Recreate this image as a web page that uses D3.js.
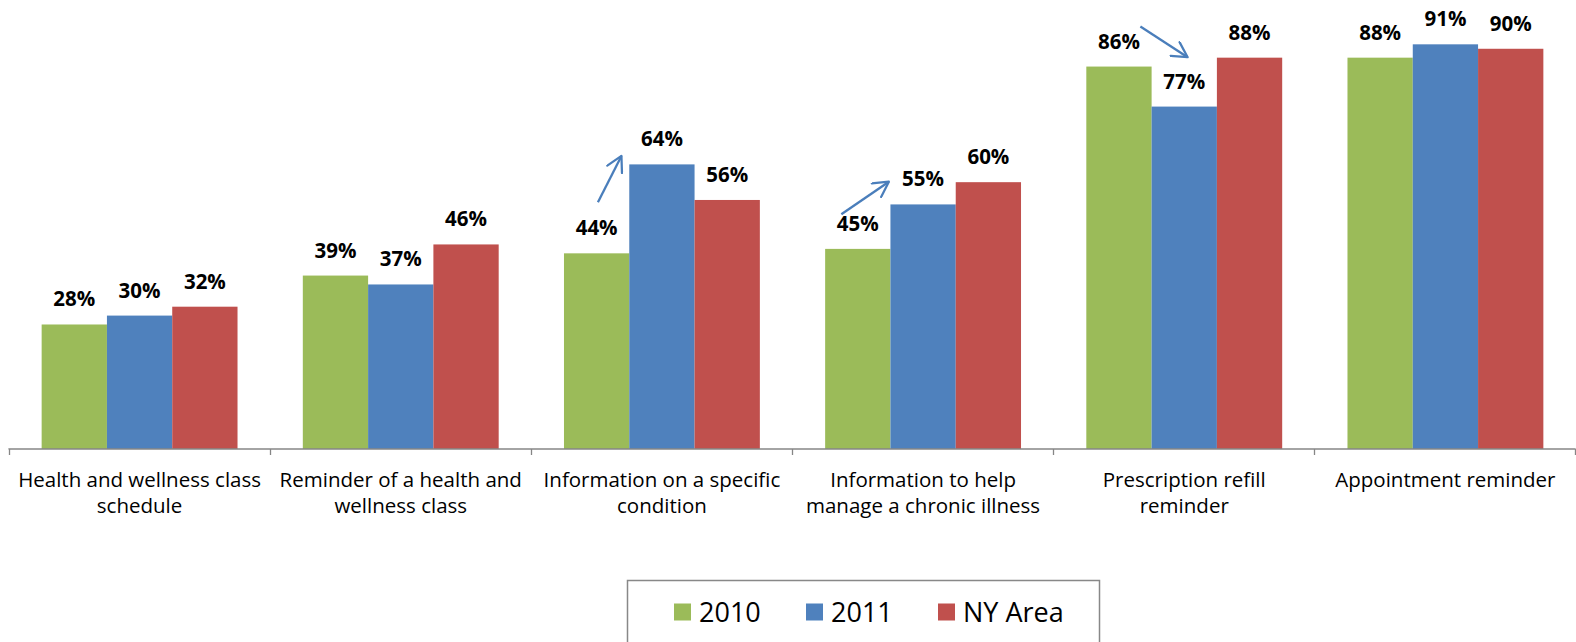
<!DOCTYPE html>
<html>
<head>
<meta charset="utf-8">
<script src="https://cdn.jsdelivr.net/npm/d3@7"></script>
<style>
  body { margin: 0; background: #fff; }
  svg { display: block; font-family: "Open Sans", "Liberation Sans", sans-serif; }
  .valLbl { font-weight: bold; font-size: 20.5px; fill: #000; }
  .catLbl { font-size: 20.5px; fill: #000; }
  .legText { font-size: 27px; fill: #000; }
</style>
</head>
<body>
<svg id="chart" width="1576" height="642"></svg>
<script>
// categories, each split into its two display lines
var categories = [
  ["Health and wellness class", "schedule"],
  ["Reminder of a health and", "wellness class"],
  ["Information on a specific", "condition"],
  ["Information to help", "manage a chronic illness"],
  ["Prescription refill", "reminder"],
  ["Appointment reminder", ""]
];
var seriesNames = ["2010", "2011", "NY Area"];
var seriesColors = ["#9BBB59", "#4F81BD", "#C0504D"];

var vals2010 = [28, 39, 44, 45, 86, 88];
var vals2011 = [30, 37, 64, 55, 77, 91];
var valsNY = [32, 46, 56, 60, 88, 90];

// trend arrows: category index, [band fraction, value] start and end
var arrows = [
  { cat: 2, from: [0.255, 55.5], to: [0.345, 65.9] },
  { cat: 3, from: [0.187, 52.8], to: [0.369, 60.1] },
  { cat: 4, from: [0.332, 95.0], to: [0.513, 88.1] }
];

var svg = d3.select("#chart");
var plotLeft = 9, plotRight = 1576, plotBase = 449, plotTop = 4.3;

var x0 = d3.scaleBand()
  .domain(d3.range(categories.length))
  .range([plotLeft, plotRight])
  .paddingInner(0).paddingOuter(0);

var x1 = d3.scaleBand()
  .domain(d3.range(seriesNames.length))
  .range([0, x0.bandwidth()])
  .paddingInner(0)
  .paddingOuter(0.5);

var y = d3.scaleLinear().domain([0, 100]).range([plotBase, plotTop]);

var allVals = [vals2010, vals2011, valsNY];

var groups = svg.selectAll(".grp")
  .data(categories)
  .enter().append("g")
  .attr("class", "grp")
  .attr("transform", function(d, i){ return "translate(" + x0(i) + ",0)"; });

groups.each(function(c, ci){
  var g = d3.select(this);
  var rows = allVals.map(function(v, si){ return { s: si, v: v[ci] }; });

  g.selectAll("rect")
    .data(rows)
    .enter().append("rect")
    .attr("x", function(d){ return x1(d.s); })
    .attr("width", x1.bandwidth())
    .attr("y", function(d){ return y(d.v); })
    .attr("height", function(d){ return plotBase - y(d.v); })
    .attr("fill", function(d){ return seriesColors[d.s]; });

  g.selectAll(".valLbl")
    .data(rows)
    .enter().append("text")
    .attr("class", "valLbl")
    .attr("text-anchor", "middle")
    .attr("x", function(d){ return x1(d.s) + x1.bandwidth() / 2; })
    .attr("y", function(d){ return y(d.v) - 18; })
    .text(function(d){ return d.v + "%"; });
});

// axis line with ticks between categories
var axis = d3.axisBottom(d3.scaleLinear().domain([0, categories.length]).range([plotLeft, plotRight - 1]))
  .ticks(categories.length)
  .tickSize(6)
  .tickFormat("");

var axG = svg.append("g").attr("transform", "translate(0," + plotBase + ")").call(axis);
axG.select(".domain").attr("stroke", "#868686").attr("stroke-width", 1.3).attr("d", "M" + plotLeft + ",0.5V0H" + (plotRight - 1) + "V0.5");
axG.selectAll(".tick line").attr("stroke", "#868686").attr("stroke-width", 1.3);

// category labels
svg.selectAll(".catLbl")
  .data(categories)
  .enter().append("text")
  .attr("class", "catLbl")
  .attr("text-anchor", "middle")
  .each(function(d, i){
    var t = d3.select(this);
    var cx = x0(i) + x0.bandwidth() / 2;
    d.forEach(function(line, li){
      t.append("tspan").attr("x", cx).attr("y", 487 + li * 26).text(line);
    });
  });

// arrows
var defs = svg.append("defs");
defs.append("marker")
  .attr("id", "arrowHead")
  .attr("viewBox", "0 0 12 12")
  .attr("refX", 11).attr("refY", 6)
  .attr("markerWidth", 18).attr("markerHeight", 18)
  .attr("markerUnits", "userSpaceOnUse")
  .attr("orient", "auto")
  .append("path")
  .attr("d", "M1,0.5 L11,6 L1,11.5")
  .attr("fill", "none")
  .attr("stroke", "#4A7EBB")
  .attr("stroke-linecap", "round")
  .attr("stroke-linejoin", "round")
  .attr("stroke-width", 1.5);

svg.selectAll(".trend")
  .data(arrows)
  .enter().append("line")
  .attr("class", "trend")
  .attr("x1", function(d){ return x0(d.cat) + d.from[0] * x0.bandwidth(); })
  .attr("y1", function(d){ return y(d.from[1]); })
  .attr("x2", function(d){ return x0(d.cat) + d.to[0] * x0.bandwidth(); })
  .attr("y2", function(d){ return y(d.to[1]); })
  .attr("stroke", "#4A7EBB")
  .attr("stroke-width", 2.3)
  .attr("marker-end", "url(#arrowHead)");

// legend
var leg = svg.append("g");
leg.append("rect")
  .attr("x", 627.5).attr("y", 580.5)
  .attr("width", 472).attr("height", 80)
  .attr("fill", "#fff")
  .attr("stroke", "#888")
  .attr("stroke-width", 1.5);

var legX = [674, 806, 938];
var items = leg.selectAll(".legItem")
  .data(seriesNames)
  .enter().append("g")
  .attr("class", "legItem")
  .attr("transform", function(d, i){ return "translate(" + legX[i] + ",0)"; });

items.append("rect")
  .attr("x", 0).attr("y", 603.5)
  .attr("width", 17).attr("height", 17)
  .attr("fill", function(d, i){ return seriesColors[i]; });

items.append("text")
  .attr("class", "legText")
  .attr("x", 25).attr("y", 622)
  .text(function(d){ return d; });
</script>
</body>
</html>
